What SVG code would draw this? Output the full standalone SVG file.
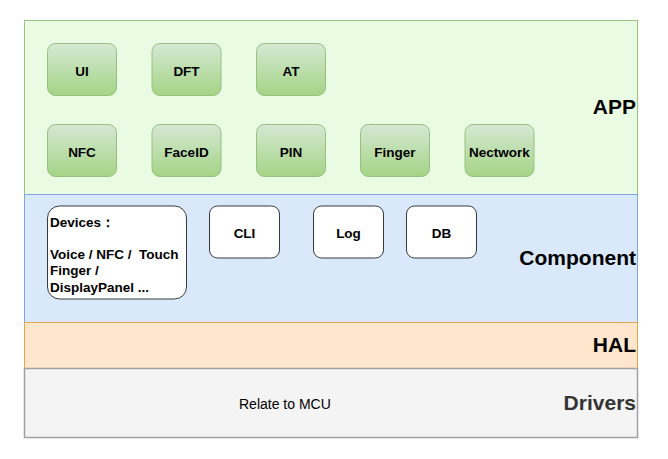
<svg xmlns="http://www.w3.org/2000/svg" width="668" height="459" viewBox="0 0 668 459">
<defs>
<linearGradient id="g" x1="0" y1="0" x2="0" y2="1">
<stop offset="0" stop-color="#d5e8d4"/>
<stop offset="1" stop-color="#a4d485"/>
</linearGradient>
<style>
.app{fill:url(#g);stroke:#97c07f;stroke-width:1}
.cmp{fill:#ffffff;stroke:#36393d;stroke-width:1}
.t{font-family:"Liberation Sans",Arial,sans-serif;font-weight:bold;font-size:13.5px;fill:#000;text-anchor:middle}
.dt{font-family:"Liberation Sans",Arial,sans-serif;font-weight:bold;font-size:13.5px;fill:#000;white-space:pre}
.lbl{font-family:"Liberation Sans",Arial,sans-serif;font-weight:bold;font-size:21px;fill:#000;text-anchor:end}
</style>
</defs>
<rect width="668" height="459" fill="#ffffff"/>
<g id="layer-app"><rect x="24.5" y="20.5" width="613" height="174" fill="#eafbe3" stroke="#97c47e"/><text class="lbl" x="636" y="114">APP</text></g>
<g id="layer-component"><rect x="24.5" y="194.5" width="613" height="128" fill="#dae8fc" stroke="#7ea6e0"/><text class="lbl" x="636" y="264.5">Component</text></g>
<g id="layer-hal"><rect x="24.5" y="322.5" width="613" height="46" fill="#ffe6cc" stroke="#e4a84a"/><text class="lbl" x="636" y="352">HAL</text></g>
<g id="layer-drivers"><rect x="24.5" y="368.5" width="613" height="69" fill="#f4f4f4" stroke="#a0a0a0" stroke-width="1.5"/><text class="lbl" x="636" y="410" style="fill:#333333">Drivers</text><text x="239" y="409" font-family="Liberation Sans,Arial,sans-serif" font-size="14px" fill="#000">Relate to MCU</text></g>
<g id="UI"><rect class="app" x="47.5" y="43.5" width="69" height="52" rx="8"/><text class="t" x="82" y="76">UI</text></g>
<g id="DFT"><rect class="app" x="152" y="43.5" width="69" height="52" rx="8"/><text class="t" x="186.5" y="76">DFT</text></g>
<g id="AT"><rect class="app" x="256.5" y="43.5" width="69" height="52" rx="8"/><text class="t" x="291" y="76">AT</text></g>
<g id="NFC"><rect class="app" x="47.5" y="124.5" width="69" height="52" rx="8"/><text class="t" x="82" y="157">NFC</text></g>
<g id="FaceID"><rect class="app" x="152" y="124.5" width="69" height="52" rx="8"/><text class="t" x="186.5" y="157">FaceID</text></g>
<g id="PIN"><rect class="app" x="256.5" y="124.5" width="69" height="52" rx="8"/><text class="t" x="291" y="157">PIN</text></g>
<g id="Finger"><rect class="app" x="360.5" y="124.5" width="69" height="52" rx="8"/><text class="t" x="395" y="157">Finger</text></g>
<g id="Nectwork"><rect class="app" x="465" y="124.5" width="69" height="52" rx="8"/><text class="t" x="499.5" y="157">Nectwork</text></g>
<g id="Devices"><rect class="cmp" x="47.5" y="206" width="139" height="93" rx="12"/>
<text class="dt" x="50" y="227">Devices：</text>
<text class="dt" x="50" y="259">Voice / NFC /  Touch</text>
<text class="dt" x="50" y="275">Finger /</text>
<text class="dt" x="50" y="291.5">DisplayPanel ...</text></g>
<g id="CLI"><rect class="cmp" x="209.5" y="206" width="70" height="52" rx="8"/><text class="t" x="244.5" y="238">CLI</text></g>
<g id="Log"><rect class="cmp" x="313.5" y="206" width="70" height="52" rx="8"/><text class="t" x="348.5" y="238">Log</text></g>
<g id="DB"><rect class="cmp" x="406.5" y="206" width="70" height="52" rx="8"/><text class="t" x="441.5" y="238">DB</text></g>
<g id="connectors"></g>
</svg>
